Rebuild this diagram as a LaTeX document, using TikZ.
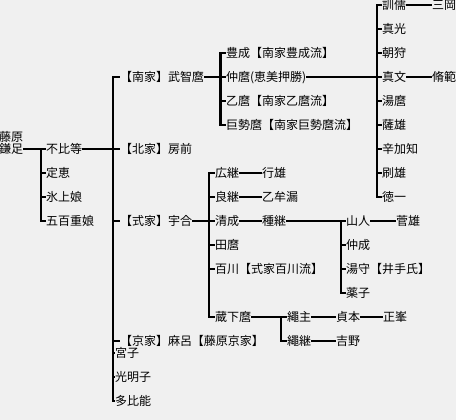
\documentclass[tikz,border=0pt]{standalone}
\usepackage{fontspec}
\newfontfamily\jp{Noto Sans CJK JP}
\definecolor{bgc}{HTML}{F0F0F0}
\begin{document}
\begin{tikzpicture}[x=1pt,y=-1pt,
  n/.style={anchor=west,inner sep=0pt,outer sep=0pt,
    font=\jp\fontsize{12pt}{13.5pt}\selectfont,
    text height=10.56pt,text depth=1.44pt},
  ln/.style={line width=2.6pt,draw=black},
  bus/.style={line width=2.6pt,draw=black,line cap=rect}]
\fill[bgc] (0,0) rectangle (456,420);
\useasboundingbox (0,0) rectangle (456,420);
% bus coordinates
\coordinate (b1) at (41,0);
\coordinate (b2) at (113,0);
\coordinate (b3) at (220.5,0);
\coordinate (b4) at (377,0);
\coordinate (b5) at (209,0);
\coordinate (b6) at (341,0);
\coordinate (b7) at (281,0);
% nodes
\node[n,anchor=east] (fujiwara) at (23,136.5) {藤原};
\node[n,anchor=east] (kamatari) at (23,149) {鎌足};
\node[n] (fuhito) at (46,149) {不比等};
\node[n] (joe) at (46,173) {定恵};
\node[n] (hikami) at (46,197) {氷上娘};
\node[n] (ioe) at (46,221) {五百重娘};
\node[n] (nanke) at (120,77) {【南家】武智麿};
\node[n] (hokke) at (120,149) {【北家】房前};
\node[n] (shikike) at (120,221) {【式家】宇合};
\node[n] (kyoke) at (120,341) {【京家】麻呂【藤原京家】};
\node[n] (miyako) at (115,353) {宮子};
\node[n] (komyoshi) at (115,377) {光明子};
\node[n] (tahino) at (115,401) {多比能};
\node[n] (toyonari) at (226,53) {豊成【南家豊成流】};
\node[n] (nakamaro) at (226,77) {仲麿(恵美押勝)};
\node[n] (otomaro) at (226,101) {乙麿【南家乙麿流】};
\node[n] (kosemaro) at (226,125) {巨勢麿【南家巨勢麿流】};
\node[n] (kusumaro) at (382,5) {訓儒};
\node[n] (mikaoka) at (432,5) {三岡};
\node[n] (masaki) at (382,29) {真光};
\node[n] (asakari) at (382,53) {朝狩};
\node[n] (mafumi) at (382,77) {真文};
\node[n] (nobunori) at (432,77) {脩範};
\node[n] (yumaro) at (382,101) {湯麿};
\node[n] (satsuo) at (382,125) {薩雄};
\node[n] (shikachi) at (382,149) {辛加知};
\node[n] (yoshio) at (382,173) {刷雄};
\node[n] (tokuitsu) at (382,197) {徳一};
\node[n] (hirotsugu) at (215,173) {広継};
\node[n] (yukio) at (262,173) {行雄};
\node[n] (yoshitsugu) at (215,197) {良継};
\node[n] (otomuro) at (262,197) {乙牟漏};
\node[n] (kiyonari) at (215,221) {清成};
\node[n] (tanetsugu) at (262,221) {種継};
\node[n] (yamahito) at (346,221) {山人};
\node[n] (sugao) at (396,221) {菅雄};
\node[n] (nakanari) at (346,245) {仲成};
\node[n] (yumori) at (346,269) {湯守【井手氏】};
\node[n] (kusuko) at (346,293) {薬子};
\node[n] (tamaro) at (215,245) {田麿};
\node[n] (momokawa) at (215,269) {百川【式家百川流】};
\node[n] (kurajimaro) at (215,317) {蔵下麿};
\node[n] (tadanushi) at (287,317) {繩主};
\node[n] (sadamoto) at (336,317) {貞本};
\node[n] (masamine) at (383,317) {正峯};
\node[n] (tadatsugu) at (287,341) {繩継};
\node[n] (yoshino) at (336,341) {吉野};
% Kamatari
\draw[ln] (kamatari.east) -- (fuhito.west);
\draw[bus] (b1 |- fuhito.west) -- (b1 |- ioe.west);
\draw[ln] (b1 |- joe.west) -- (joe.west);
\draw[ln] (b1 |- hikami.west) -- (hikami.west);
\draw[ln] (b1 |- ioe.west) -- (ioe.west);
% Fuhito
\draw[ln] (fuhito.east) -- (hokke.west);
\draw[bus] (b2 |- nanke.west) -- (b2 |- tahino.west);
\draw[ln] (b2 |- nanke.west) -- (nanke.west);
\draw[ln] (b2 |- shikike.west) -- (shikike.west);
\draw[ln] (b2 |- kyoke.west) -- (kyoke.west);
\draw[ln] (b2 |- miyako.west) -- (miyako.west);
\draw[ln] (b2 |- komyoshi.west) -- (komyoshi.west);
\draw[ln] (b2 |- tahino.west) -- (tahino.west);
% Nanke
\draw[ln] (nanke.east) -- (nakamaro.west);
\draw[bus] (b3 |- toyonari.west) -- (b3 |- kosemaro.west);
\draw[ln] (b3 |- toyonari.west) -- (toyonari.west);
\draw[ln] (b3 |- otomaro.west) -- (otomaro.west);
\draw[ln] (b3 |- kosemaro.west) -- (kosemaro.west);
% Nakamaro
\draw[ln] (nakamaro.east) -- (mafumi.west);
\draw[bus] (b4 |- kusumaro.west) -- (b4 |- tokuitsu.west);
\draw[ln] (b4 |- kusumaro.west) -- (kusumaro.west);
\draw[ln] (b4 |- masaki.west) -- (masaki.west);
\draw[ln] (b4 |- asakari.west) -- (asakari.west);
\draw[ln] (b4 |- yumaro.west) -- (yumaro.west);
\draw[ln] (b4 |- satsuo.west) -- (satsuo.west);
\draw[ln] (b4 |- shikachi.west) -- (shikachi.west);
\draw[ln] (b4 |- yoshio.west) -- (yoshio.west);
\draw[ln] (b4 |- tokuitsu.west) -- (tokuitsu.west);
\draw[ln] (kusumaro.east) -- (mikaoka.west);
\draw[ln] (mafumi.east) -- (nobunori.west);
% Shikike
\draw[ln] (shikike.east) -- (kiyonari.west);
\draw[bus] (b5 |- hirotsugu.west) -- (b5 |- kurajimaro.west);
\draw[ln] (b5 |- hirotsugu.west) -- (hirotsugu.west);
\draw[ln] (b5 |- yoshitsugu.west) -- (yoshitsugu.west);
\draw[ln] (b5 |- tamaro.west) -- (tamaro.west);
\draw[ln] (b5 |- momokawa.west) -- (momokawa.west);
\draw[ln] (b5 |- kurajimaro.west) -- (kurajimaro.west);
\draw[ln] (hirotsugu.east) -- (yukio.west);
\draw[ln] (yoshitsugu.east) -- (otomuro.west);
\draw[ln] (kiyonari.east) -- (tanetsugu.west);
% Tanetsugu
\draw[ln] (tanetsugu.east) -- (yamahito.west);
\draw[bus] (b6 |- yamahito.west) -- (b6 |- kusuko.west);
\draw[ln] (b6 |- nakanari.west) -- (nakanari.west);
\draw[ln] (b6 |- yumori.west) -- (yumori.west);
\draw[ln] (b6 |- kusuko.west) -- (kusuko.west);
\draw[ln] (yamahito.east) -- (sugao.west);
% Kurajimaro
\draw[ln] (kurajimaro.east) -- (tadanushi.west);
\draw[bus] (b7 |- tadanushi.west) -- (b7 |- tadatsugu.west);
\draw[ln] (b7 |- tadatsugu.west) -- (tadatsugu.west);
\draw[ln] (tadanushi.east) -- (sadamoto.west);
\draw[ln] (sadamoto.east) -- (masamine.west);
\draw[ln] (tadatsugu.east) -- (yoshino.west);
\end{tikzpicture}
\end{document}
